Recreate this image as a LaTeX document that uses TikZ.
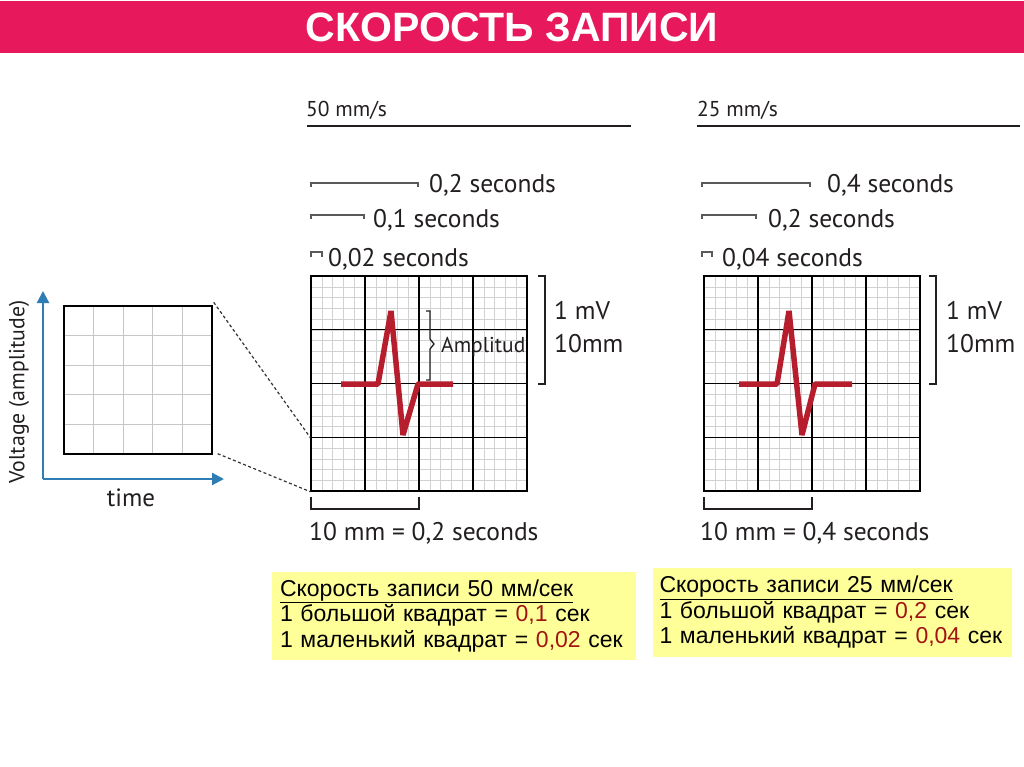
\documentclass[tikz,border=0pt]{standalone}
\usepackage{fontspec}
\setmainfont{PT Sans}
\newfontfamily\arialfont{Liberation Sans}
\usetikzlibrary{positioning, arrows.meta, calc}

\definecolor{titlered}{RGB}{232,24,92}
\definecolor{ecgred}{RGB}{182,30,45}
\definecolor{axisblue}{RGB}{46,125,181}
\definecolor{noteyellow}{RGB}{255,255,153}
\definecolor{valred}{RGB}{160,20,20}
\definecolor{inkgray}{RGB}{35,31,32}

\begin{document}
\begin{tikzpicture}[x=1pt, y=-1pt,
        titlebar/.style={rectangle, fill=titlered, text=white, minimum width=1024pt, minimum height=52pt, inner sep=0pt, font=\arialfont\bfseries\fontsize{41}{43}\selectfont},
        ecggrid/.style={rectangle, draw=black, line width=1.4pt, minimum width=216pt, minimum height=215pt, inner sep=0pt},
        minibox/.style={rectangle, draw=black, line width=1.4pt, minimum size=148pt, inner sep=0pt},
        minorline/.style={gray!35, line width=0.5pt},
        majorline/.style={black, line width=1.4pt},
        ecgline/.style={ecgred, line width=5.5pt, line join=bevel},
        axisarr/.style={-{Triangle[length=12pt, width=12pt]}, axisblue, line width=2.2pt},
        zoomline/.style={black!80, dashed, line width=1.2pt, dash pattern=on 3pt off 2.5pt},
        scalebar/.style={black!65, line width=1.1pt},
        bracket/.style={inkgray, line width=1.3pt},
        headrule/.style={inkgray, line width=1.5pt},
        lbl/.style={inkgray, inner sep=0pt, anchor=base west, font=\fontsize{25.5}{27}\selectfont},
        smalllbl/.style={lbl, font=\fontsize{21.5}{23}\selectfont},
        notebox/.style={rectangle, fill=noteyellow, align=left, inner xsep=8pt, inner ysep=4pt, font=\arialfont\fontsize{23}{25.5}\selectfont},
    ]
        \useasboundingbox[fill=white] (0,0) rectangle (1024,767);

        % Title
        \node[titlebar] (title) at (512,27) {СКОРОСТЬ ЗАПИСИ};

        % Small overview grid with axes
        \node[minibox] (mini) at (138,380) {};
        \foreach \i in {1,...,4} {
            \draw[gray!45, line width=0.7pt] ({64+\i*29.6},306) -- ({64+\i*29.6},454);
            \draw[gray!45, line width=0.7pt] (64,{306+\i*29.6}) -- (212,{306+\i*29.6});
        }
        \node[minibox] at (mini) {};
        \coordinate (origin) at (43,479);
        \coordinate (vtop) at (43,291);
        \coordinate (tright) at (224,479);
        \draw[axisarr] (origin) -- (vtop);
        \draw[axisarr] (origin) -- (tright);
        \node[inkgray, rotate=90, font=\fontsize{21.8}{23}\selectfont] (voltlbl) at (19,392) {Voltage (amplitude)};
        \node[inkgray, font=\fontsize{25}{27}\selectfont] (timelbl) at (131,498) {time};

        % ECG paper grids
        \foreach \gx in {311,704} {
            \foreach \i in {1,...,19} {
                \draw[minorline] ({\gx+\i*10.8},276) -- ({\gx+\i*10.8},491);
                \draw[minorline] (\gx,{276+\i*10.75}) -- ({\gx+216},{276+\i*10.75});
            }
            \foreach \i in {1,2,3} {
                \draw[majorline] ({\gx+\i*54},276) -- ({\gx+\i*54},491);
                \draw[majorline] (\gx,{276+\i*53.75}) -- ({\gx+216},{276+\i*53.75});
            }
        }
        \node[ecggrid] (gridL) at (419,383.5) {};
        \node[ecggrid] (gridR) at (812,383.5) {};

        % Zoom lines
        \draw[zoomline] ([shift={(1pt,3pt)}]mini.north east) -- ($(gridL.north west)!0.75!(gridL.south west)$);
        \draw[zoomline] ([shift={(5pt,1pt)}]mini.south east) -- (gridL.south west);

        % ECG traces
        \draw[ecgline] (341,384) -- (378,384) -- (391,311) -- (403,435) -- (418,384) -- (453,384);
        \draw[ecgline] (739,384) -- (777,384) -- (789,311) -- (802,435) -- (815,384) -- (852,384);

        % 50 mm/s panel
        \node[smalllbl] (speedL) at (306,117) {50 mm/s};
        \draw[headrule] (307,126) -- (631,126);
        \draw[scalebar] (311,187) -- (311,183) -- (418,183) -- (418,187);
        \node[lbl] (secL1) at (429,193) {0,2 seconds};
        \draw[scalebar] (311,219) -- (311,215) -- (364,215) -- (364,219);
        \node[lbl] (secL2) at (373,227) {0,1 seconds};
        \draw[scalebar] (311,257) -- (311,252) -- (322,252) -- (322,257);
        \node[lbl] (secL3) at (328,266) {0,02 seconds};

        \draw[bracket] (426,311) -- (430,311) -- (430,339) -- (434,344) -- (430,349) -- (430,380) -- (426,380);
        \node[lbl, font=\fontsize{21.5}{23}\selectfont] (ampL) at (441,352) {Amplitud};
        \draw[bracket] (538,276) -- (545,276) -- (545,384) -- (538,384);
        \node[lbl] (mvL) at (554,319) {1 mV};
        \node[lbl] (mmL) at (554,352) {10mm};
        \draw[bracket] (311,497) -- (311,509) -- (419,509) -- (419,497);
        \node[lbl] (durL) at (309,540) {10 mm = 0,2 seconds};

        % 25 mm/s panel
        \node[smalllbl] (speedR) at (697,117) {25 mm/s};
        \draw[headrule] (697,126) -- (1020,126);
        \draw[scalebar] (702,187) -- (702,183) -- (810,183) -- (810,187);
        \node[lbl] (secR1) at (827,193) {0,4 seconds};
        \draw[scalebar] (702,219) -- (702,215) -- (756,215) -- (756,219);
        \node[lbl] (secR2) at (768,227) {0,2 seconds};
        \draw[scalebar] (702,257) -- (702,252) -- (712,252) -- (712,257);
        \node[lbl] (secR3) at (722,266) {0,04 seconds};

        \draw[bracket] (929,276) -- (936,276) -- (936,384) -- (929,384);
        \node[lbl] (mvR) at (946,319) {1 mV};
        \node[lbl] (mmR) at (946,352) {10mm};
        \draw[bracket] (704,497) -- (704,509) -- (812,509) -- (812,497);
        \node[lbl] (durR) at (700,540) {10 mm = 0,4 seconds};

        % Notes
        \node[notebox, minimum width=364pt, minimum height=88pt, text width=348pt] (noteL) at (454,616)
            {\underline{Скорость записи 50 мм/сек}\\1 большой квадрат = \textcolor{valred}{0,1} сек\\1 маленький квадрат = \textcolor{valred}{0,02} сек};
        \node[notebox, inner xsep=7pt, minimum width=359pt, minimum height=89pt, text width=345pt] (noteR) at (832,612.5)
            {\underline{Скорость записи 25 мм/сек}\\1 большой квадрат = \textcolor{valred}{0,2} сек\\1 маленький квадрат = \textcolor{valred}{0,04} сек};
    \end{tikzpicture}
\end{document}
